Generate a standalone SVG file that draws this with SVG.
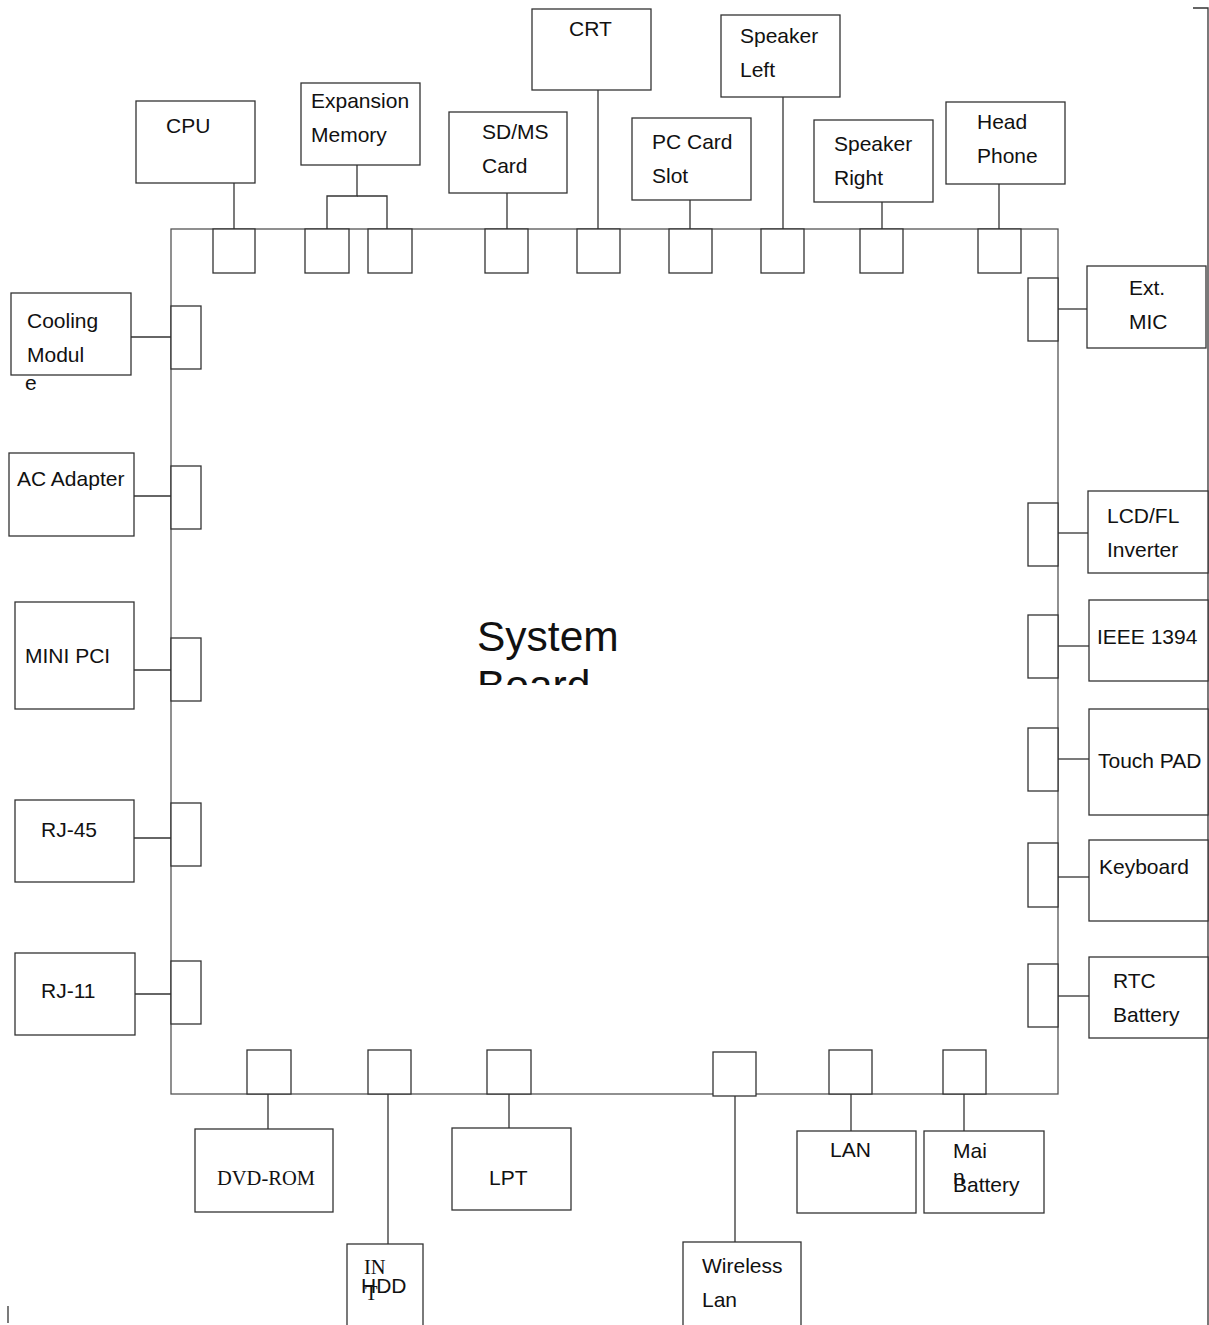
<svg xmlns="http://www.w3.org/2000/svg" width="1209" height="1325" viewBox="0 0 1209 1325">
<style>
rect{fill:#fff;stroke:#333;stroke-width:1.3}
.board{fill:#fff;stroke:#555;stroke-width:1.3}
line,polyline{stroke:#333;stroke-width:1.3;fill:none}
text{font-family:"Liberation Sans",Arial,sans-serif;font-size:21px;fill:#111}
.serif{font-family:"Liberation Serif","Times New Roman",serif;font-size:20.5px}
.big{font-size:42.5px}
</style>
<defs><clipPath id="bc"><rect x="440" y="600" width="250" height="85"/></clipPath></defs>
<g id="board"><rect class="board" x="171" y="229" width="887" height="865"/>
<text class="big" x="477" y="651">System</text>
<g clip-path="url(#bc)"><text class="big" x="477" y="700">Board</text></g></g>
<g id="connectors">
<line x1="234" y1="183" x2="234" y2="229"/>
<polyline points="357,165 357,196 327,196 327,229"/><polyline points="357,196 387,196 387,229"/>
<line x1="507" y1="193" x2="507" y2="229"/>
<line x1="598" y1="90" x2="598" y2="229"/>
<line x1="690" y1="200" x2="690" y2="229"/>
<line x1="783" y1="97" x2="783" y2="229"/>
<line x1="882" y1="202" x2="882" y2="229"/>
<line x1="999" y1="184" x2="999" y2="229"/>
<line x1="1058" y1="309" x2="1087" y2="309"/>
<line x1="1058" y1="533" x2="1088" y2="533"/>
<line x1="1058" y1="646" x2="1089" y2="646"/>
<line x1="1058" y1="759" x2="1089" y2="759"/>
<line x1="1058" y1="877" x2="1089" y2="877"/>
<line x1="1058" y1="996" x2="1089" y2="996"/>
<line x1="131" y1="337" x2="171" y2="337"/>
<line x1="134" y1="496" x2="171" y2="496"/>
<line x1="134" y1="670" x2="171" y2="670"/>
<line x1="134" y1="838" x2="171" y2="838"/>
<line x1="135" y1="994" x2="171" y2="994"/>
<line x1="268" y1="1094" x2="268" y2="1129"/>
<line x1="388" y1="1094" x2="388" y2="1244"/>
<line x1="509" y1="1094" x2="509" y2="1128"/>
<line x1="735" y1="1096" x2="735" y2="1242"/>
<line x1="851" y1="1094" x2="851" y2="1131"/>
<line x1="964" y1="1094" x2="964" y2="1131"/>
<polyline points="1193,8 1208,8 1208,1325"/>
<line x1="8" y1="1306" x2="8" y2="1323"/>
</g>
<g id="ports">
<rect x="213" y="229" width="42" height="44"/><rect x="305" y="229" width="44" height="44"/><rect x="368" y="229" width="44" height="44"/>
<rect x="485" y="229" width="43" height="44"/><rect x="577" y="229" width="43" height="44"/><rect x="669" y="229" width="43" height="44"/>
<rect x="761" y="229" width="43" height="44"/><rect x="860" y="229" width="43" height="44"/><rect x="978" y="229" width="43" height="44"/>
<rect x="1028" y="278" width="30" height="63"/><rect x="1028" y="503" width="30" height="63"/><rect x="1028" y="615" width="30" height="63"/>
<rect x="1028" y="728" width="30" height="63"/><rect x="1028" y="843" width="30" height="64"/><rect x="1028" y="964" width="30" height="63"/>
<rect x="171" y="306" width="30" height="63"/><rect x="171" y="466" width="30" height="63"/><rect x="171" y="638" width="30" height="63"/>
<rect x="171" y="803" width="30" height="63"/><rect x="171" y="961" width="30" height="63"/>
<rect x="247" y="1050" width="44" height="44"/><rect x="368" y="1050" width="43" height="44"/><rect x="487" y="1050" width="44" height="44"/>
<rect x="713" y="1052" width="43" height="44"/><rect x="829" y="1050" width="43" height="44"/><rect x="943" y="1050" width="43" height="44"/>
</g>
<g id="cpu"><rect x="136" y="101" width="119" height="82"/><text x="166" y="133">CPU</text></g>
<g id="expansion-memory"><rect x="301" y="83" width="119" height="82"/><text x="311" y="108">Expansion</text><text x="311" y="142">Memory</text></g>
<g id="sdms"><rect x="449" y="112" width="118" height="81"/><text x="482" y="139">SD/MS</text><text x="482" y="173">Card</text></g>
<g id="crt"><rect x="532" y="9" width="119" height="81"/><text x="569" y="36">CRT</text></g>
<g id="pccard"><rect x="632" y="118" width="119" height="82"/><text x="652" y="149">PC Card</text><text x="652" y="183">Slot</text></g>
<g id="speaker-left"><rect x="721" y="15" width="119" height="82"/><text x="740" y="43">Speaker</text><text x="740" y="77">Left</text></g>
<g id="speaker-right"><rect x="814" y="120" width="119" height="82"/><text x="834" y="151">Speaker</text><text x="834" y="185">Right</text></g>
<g id="headphone"><rect x="946" y="102" width="119" height="82"/><text x="977" y="129">Head</text><text x="977" y="163">Phone</text></g>
<g id="ext-mic"><rect x="1087" y="266" width="119" height="82"/><text x="1129" y="295">Ext.</text><text x="1129" y="329">MIC</text></g>
<g id="lcd"><rect x="1088" y="491" width="120" height="82"/><text x="1107" y="523">LCD/FL</text><text x="1107" y="557">Inverter</text></g>
<g id="ieee"><rect x="1089" y="600" width="119" height="81"/><text x="1097" y="644">IEEE 1394</text></g>
<g id="touchpad"><rect x="1089" y="709" width="119" height="106"/><text x="1098" y="768">Touch PAD</text></g>
<g id="keyboard"><rect x="1089" y="840" width="119" height="81"/><text x="1099" y="874">Keyboard</text></g>
<g id="rtc"><rect x="1089" y="957" width="119" height="81"/><text x="1113" y="988">RTC</text><text x="1113" y="1022">Battery</text></g>
<g id="cooling"><rect x="11" y="293" width="120" height="82"/><text x="27" y="328">Cooling</text><text x="27" y="362">Modul</text><text x="25" y="390">e</text></g>
<g id="ac"><rect x="9" y="453" width="125" height="83"/><text x="17" y="486">AC Adapter</text></g>
<g id="minipci"><rect x="15" y="602" width="119" height="107"/><text x="25" y="663">MINI PCI</text></g>
<g id="rj45"><rect x="15" y="800" width="119" height="82"/><text x="41" y="837">RJ-45</text></g>
<g id="rj11"><rect x="15" y="953" width="120" height="82"/><text x="41" y="998">RJ-11</text></g>
<g id="dvd"><rect x="195" y="1129" width="138" height="83"/><text class="serif" x="217" y="1185">DVD-ROM</text></g>
<g id="hdd"><rect x="347" y="1244" width="76" height="90"/><text class="serif" x="364" y="1274">IN</text><text class="serif" x="365" y="1300">T</text><text x="361" y="1293">HDD</text></g>
<g id="lpt"><rect x="452" y="1128" width="119" height="82"/><text x="489" y="1185">LPT</text></g>
<g id="wlan"><rect x="683" y="1242" width="118" height="92"/><text x="702" y="1273">Wireless</text><text x="702" y="1307">Lan</text></g>
<g id="lan"><rect x="797" y="1131" width="119" height="82"/><text x="830" y="1157">LAN</text></g>
<g id="main-battery"><rect x="924" y="1131" width="120" height="82"/><text x="953" y="1158">Mai</text><text x="953" y="1184">n</text><text x="953" y="1192">Battery</text></g>
</svg>
